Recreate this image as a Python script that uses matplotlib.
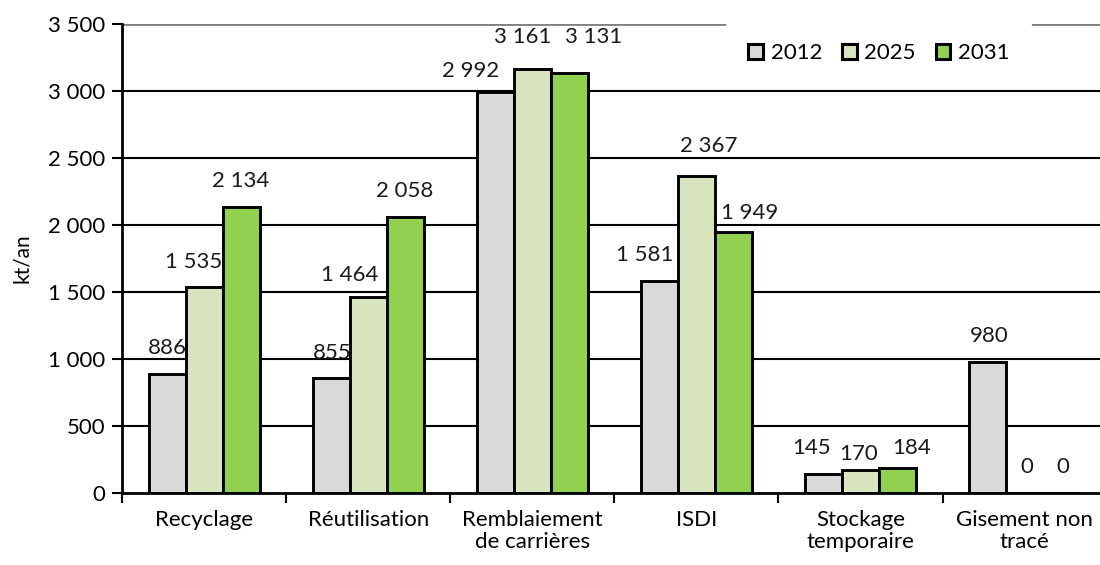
import numpy as np
import matplotlib.pyplot as plt
from matplotlib.ticker import FuncFormatter

plt.rcParams['font.family'] = ['Lato', 'DejaVu Sans']

categories = ["Recyclage", "Réutilisation", "Remblaiement\nde carrières", "ISDI",
              "Stockage\ntemporaire", "Gisement non\ntracé"]
years = ["2012", "2025", "2031"]
v2012 = [886, 855, 2992, 1581, 145, 980]
v2025 = [1535, 1464, 3161, 2367, 170, 0]
v2031 = [2134, 2058, 3131, 1949, 184, 0]
series = [v2012, v2025, v2031]
colors = ["#D9D9D9", "#D7E4BD", "#92D050"]

# label nudges in pixels (x shift, height of label centre above bar top), per category / year
dx = [[0, -11, 0], [1, -19, 0], [-25, -10, 24], [-15, 12, 16], [-12, -2, 14], [2, 2, 1]]
dy = [[26, 25, 26], [25, 22, 26], [21, 32, 36], [26, 30, 19], [26, 16, 20], [26, 26, 26]]


def fmt(v, pos=None):
    return "{:,}".format(int(v)).replace(",", " ")


fig = plt.figure(figsize=(11, 5.65), dpi=100)
ax = fig.add_axes([0.111, 0.1274, 0.895, 0.8301])

x = np.arange(len(categories))
w = 0.225
px = 0.72  # points per pixel at 100 dpi
for i, (vals, c, yr) in enumerate(zip(series, colors, years)):
    pos = x + (i - 1) * w
    bars = ax.bar(pos, vals, w, color=c, edgecolor="black", linewidth=2.1, label=yr, zorder=3)
    for j, (b, v) in enumerate(zip(bars, vals)):
        ax.annotate(fmt(v), (b.get_x() + b.get_width() / 2, v),
                    xytext=(dx[j][i] * px, dy[j][i] * px), textcoords="offset points",
                    ha="center", va="center", fontsize=16, color="#1a1a1a", zorder=2)

ax.set_xlim(-0.5, len(categories) - 0.5)
ax.set_ylim(0, 3500)
ax.set_yticks(np.arange(0, 3501, 500))
ax.yaxis.set_major_formatter(FuncFormatter(fmt))
for yv in np.arange(500, 3001, 500):
    ax.axhline(yv, color="black", linewidth=1.5, zorder=1)
ax.axhline(3500, color="#808080", linewidth=2, zorder=1)

ax.set_xticks(x)
ax.set_xticklabels(categories, fontsize=16, va="top", linespacing=1.15)
ax.set_xticks(np.arange(-0.5, len(categories), 1), minor=True)
ax.tick_params(axis="x", which="major", length=0, pad=12)
ax.tick_params(axis="x", which="minor", length=7, width=1.5, direction="out")
ax.tick_params(axis="y", length=7, width=1.5, labelsize=16, pad=5)

for s in ["top", "right"]:
    ax.spines[s].set_visible(False)
ax.spines["left"].set_linewidth(2)
ax.spines["bottom"].set_linewidth(2)
ax.spines["bottom"].set_zorder(4)

ax.set_ylabel("kt/an", fontsize=15, labelpad=12)

leg = ax.legend(loc="upper right", bbox_to_anchor=(0.924, 1.006), ncol=3, fontsize=16,
                frameon=True, handlelength=0.65, handleheight=0.65, handletextpad=0.35,
                columnspacing=0.9, borderpad=1.0, borderaxespad=0)
leg.get_frame().set_facecolor("white")
leg.get_frame().set_edgecolor("none")
leg.get_frame().set_alpha(1)
leg.set_zorder(6)
for h in leg.legend_handles:
    h.set_linewidth(2.2)

fig.savefig("out.png", dpi=100)
